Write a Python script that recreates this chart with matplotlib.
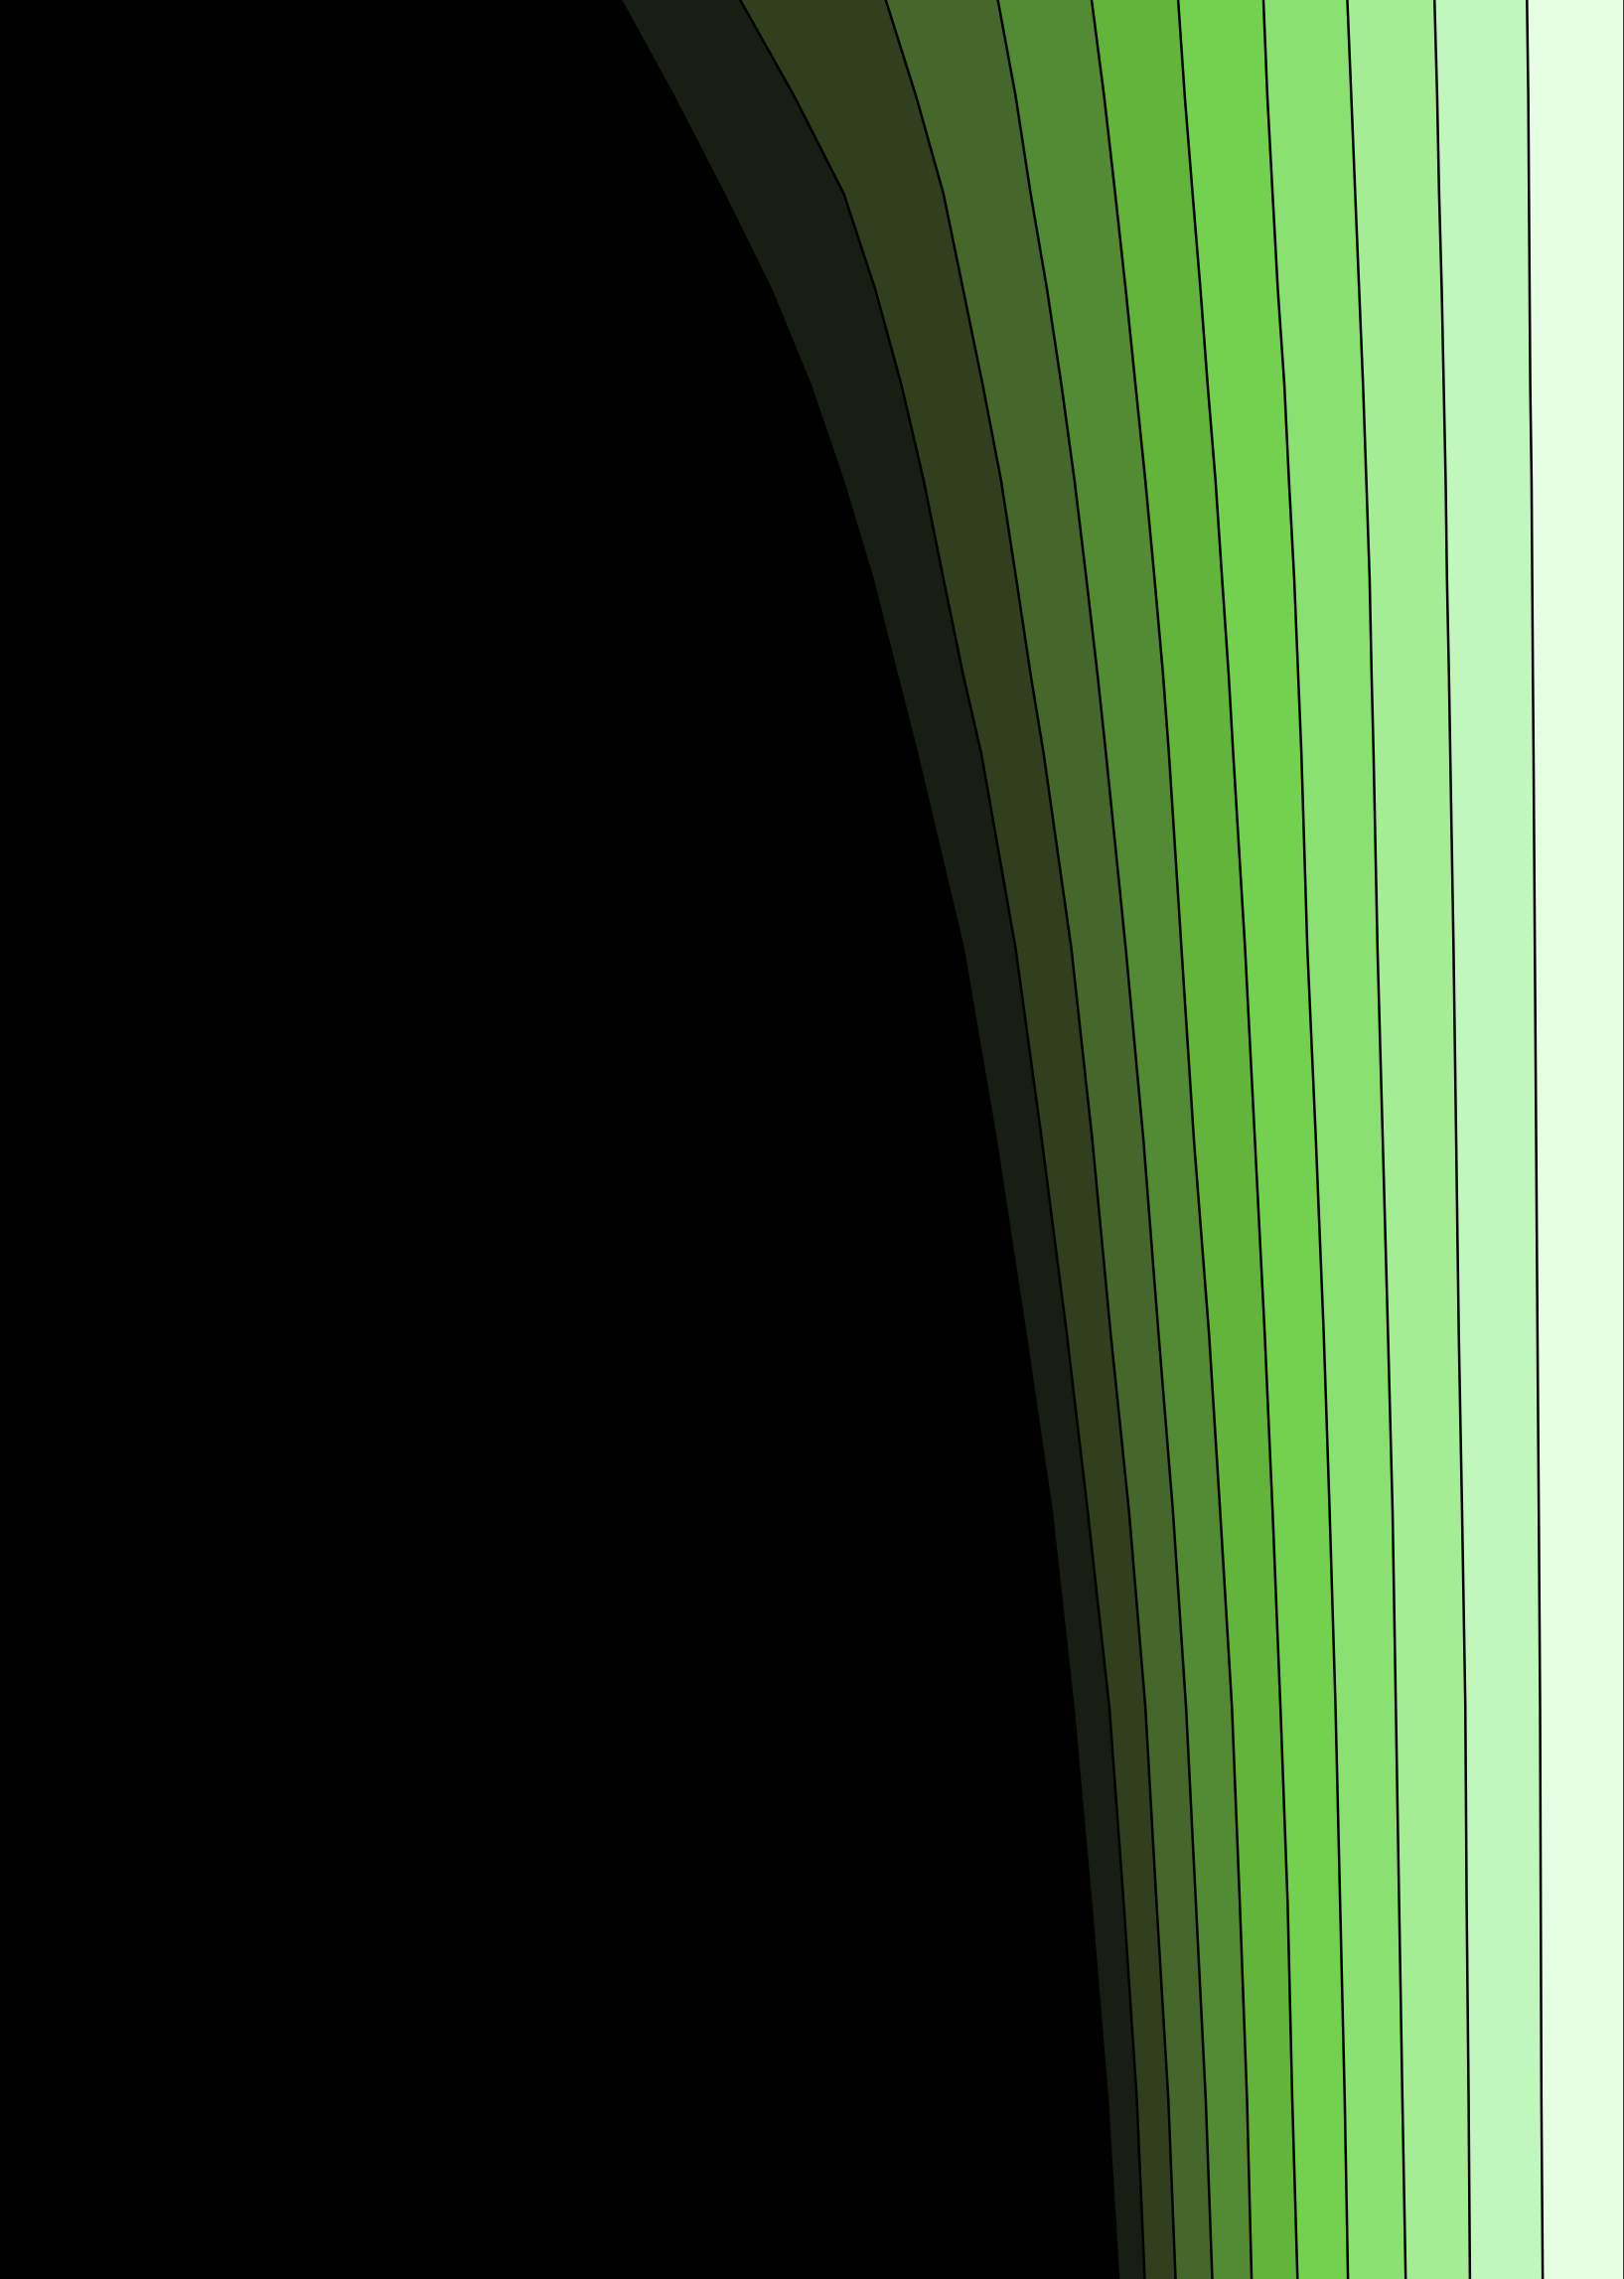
import numpy as np
import matplotlib
matplotlib.use('Agg')
import matplotlib.pyplot as plt

# vertical position of each sample row, percent of height (top = 0)
steps = [0, 4.2, 8.5, 12.7, 16.9, 21.1, 25.4, 29.6, 33.1,
         41.6, 50.0, 58.5, 66.3, 74.9, 83.5, 92.1, 100]

# raw series values per row (normalised to 100% per row when drawn)
s0 = [947, 1027, 1104, 1176, 1236, 1286, 1331, 1368, 1399, 1469, 1519, 1564, 1604, 1637, 1664, 1689, 1706]
s1 = [182, 184, 183, 159, 139, 123, 108, 101, 98, 80, 70, 63, 55, 55, 50, 45, 40]
s2 = [222, 186, 152, 134, 124, 118, 111, 103, 95, 85, 77, 67, 63, 55, 50, 48, 47]
s3 = [171, 152, 133, 128, 120, 112, 107, 102, 95, 83, 78, 73, 67, 62, 60, 57, 56]
s4 = [143, 135, 129, 120, 113, 108, 104, 100, 96, 85, 77, 77, 72, 70, 67, 63, 60]
s5 = [132, 123, 118, 114, 110, 107, 103, 100, 98, 97, 93, 85, 80, 74, 73, 69, 70]
s6 = [130, 126, 122, 118, 117, 112, 110, 106, 104, 95, 93, 90, 87, 84, 80, 80, 77]
s7 = [128, 128, 126, 124, 120, 118, 115, 112, 110, 107, 102, 98, 96, 92, 90, 88, 88]
s8 = [133, 131, 128, 126, 123, 121, 118, 118, 117, 116, 112, 108, 106, 106, 103, 101, 98]
s9 = [141, 139, 137, 134, 132, 131, 130, 128, 127, 124, 122, 120, 117, 114, 113, 111, 111]
s10 = [148, 146, 145, 144, 143, 141, 140, 139, 138, 136, 134, 132, 130, 128, 127, 126, 124]

colors = ['#000000', '#181e13', '#323f1f', '#46672b', '#538a34', '#63b43b',
          '#74d14f', '#8ae070', '#a4ed94', '#c1f7bc', '#e4fde3']


def main():
    y = np.array(steps, dtype=float)
    data = np.array([s0, s1, s2, s3, s4, s5, s6, s7, s8, s9, s10], dtype=float)
    data = data / data.sum(axis=0) * 100
    cum = np.vstack([np.zeros(len(y)), np.cumsum(data, axis=0)])

    fig = plt.figure(figsize=(16.35, 22.94), dpi=100)
    ax = fig.add_axes([0, 0, 1, 1])
    ax.set_facecolor('black')

    for i in range(len(data)):
        ax.fill_betweenx(y, cum[i], cum[i + 1], color=colors[i], linewidth=0)
    for i in range(1, len(cum)):
        ax.plot(cum[i], y, color='black', linewidth=1.8, solid_joinstyle='round')

    ax.set_xlim(0, 100)
    ax.set_ylim(100, 0)
    ax.axis('off')
    fig.savefig('out.png', dpi=100)


if __name__ == '__main__':
    main()
